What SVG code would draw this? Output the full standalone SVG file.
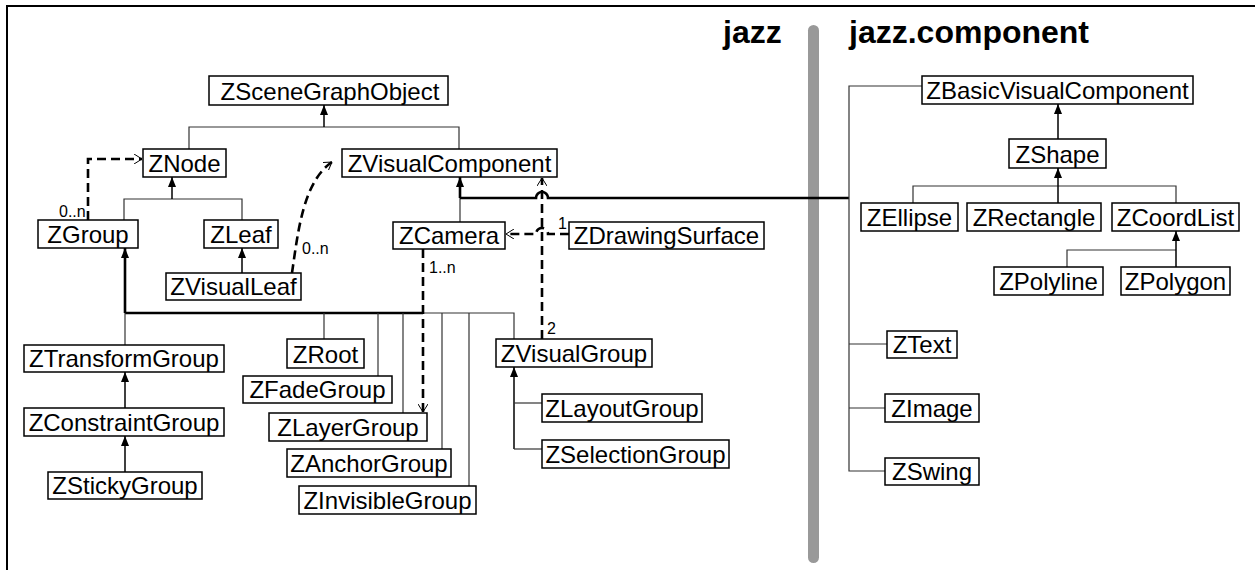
<svg xmlns="http://www.w3.org/2000/svg" width="1255" height="570" viewBox="0 0 1255 570">
<style>
  .box rect { fill: #fff; stroke: #000; stroke-width: 1.5; }
  .box text { font-family: "Liberation Sans", Arial, sans-serif; font-size: 24px; fill: #000; text-anchor: middle; }
  .thin { fill: none; stroke: #333; stroke-width: 1.2; }
  .inh { fill: none; stroke: #000; stroke-width: 1.5; }
  .thick { fill: none; stroke: #000; stroke-width: 2.6; }
  .dash { fill: none; stroke: #000; stroke-width: 2.6; stroke-dasharray: 9 5; }
  .lbl { font-family: "Liberation Sans", Arial, sans-serif; font-size: 16px; fill: #000; }
  .title { font-family: "Liberation Sans", Arial, sans-serif; font-size: 32px; font-weight: bold; fill: #000; }
</style>
<defs>
  <marker id="tri" viewBox="0 0 10 8" refX="10" refY="4" markerWidth="10" markerHeight="8" markerUnits="userSpaceOnUse" orient="auto">
    <path d="M0,0 L10,4 L0,8 z" fill="#000"/>
  </marker>
  <marker id="open" viewBox="0 0 8 10" refX="8" refY="5" markerWidth="8" markerHeight="10" markerUnits="userSpaceOnUse" orient="auto">
    <path d="M0,0 L8,5 L0,10" fill="none" stroke="#000" stroke-width="1"/>
  </marker>
</defs>
<rect x="0" y="0" width="1255" height="570" fill="#fff"/>
<path d="M7,570 V6 H1255" fill="none" stroke="#000" stroke-width="2"/>
<rect x="808" y="25" width="11" height="538" rx="5.5" fill="#999"/>
<text class="title" x="723" y="43">jazz</text>
<text class="title" x="849" y="43">jazz.component</text>

<g id="connectors">
  <!-- ZSceneGraphObject hierarchy -->
  <path class="thin" d="M189,149 V127 H459 V149"/>
  <path class="inh" d="M324,127 V105" marker-end="url(#tri)"/>
  <path class="thin" d="M124,220 V199 H242 V220"/>
  <path class="inh" d="M172,199 V177" marker-end="url(#tri)"/>
  <path class="inh" d="M242,273 V248" marker-end="url(#tri)"/>
  <!-- ZVisualComponent bus -->
  <path class="thin" d="M460,222 V198"/>
  <path class="thick" d="M460,198 V177" marker-end="url(#tri)"/>
  <path class="thick" d="M460,198 H536 A6,6 0 0 1 548,198 H849"/>
  <path class="thin" d="M922,86 H849 V471 H885"/>
  <path class="thin" d="M849,344 H887"/>
  <path class="thin" d="M849,408 H885"/>
  <!-- component hierarchy -->
  <path class="inh" d="M1058,139 V104" marker-end="url(#tri)"/>
  <path class="thin" d="M913,203 V186 H1176 V203"/>
  <path class="inh" d="M1058,203 V168" marker-end="url(#tri)"/>
  <path class="thin" d="M1067,267 V250 H1176"/>
  <path class="inh" d="M1176,267 V231" marker-end="url(#tri)"/>
  <!-- ZGroup bus -->
  <path class="thick" d="M125,313 V248" marker-end="url(#tri)"/>
  <path class="thick" d="M125,313 H423"/>
  <path class="thin" d="M423,313 H514 V339"/>
  <path class="thin" d="M125,313 V345"/>
  <path class="thin" d="M324,313 V339"/>
  <path class="thin" d="M378,313 V376"/>
  <path class="thin" d="M403,313 V413"/>
  <path class="thin" d="M442,313 V449"/>
  <path class="thin" d="M469,313 V486"/>
  <path class="inh" d="M125,408 V372" marker-end="url(#tri)"/>
  <path class="inh" d="M125,472 V436" marker-end="url(#tri)"/>
  <!-- ZVisualGroup hierarchy -->
  <path class="inh" d="M514,449 V367" marker-end="url(#tri)"/>
  <path class="thin" d="M542,403 H514"/>
  <path class="thin" d="M542,449 H514"/>
  <!-- associations -->
  <path class="dash" d="M88,220 V159 H142" marker-end="url(#open)"/>
  <path class="dash" d="M292,273 C298,232 303,182 332,162" marker-end="url(#open)"/>
  <path class="dash" d="M423,249 V412" marker-end="url(#open)"/>
  <path class="dash" d="M569,234 H548 A6,6 0 0 0 536,234 H506" marker-end="url(#open)"/>
  <path class="dash" d="M542,339 V178" marker-end="url(#open)"/>
  <text class="lbl" x="59" y="217">0..n</text>
  <text class="lbl" x="302" y="254">0..n</text>
  <text class="lbl" x="429" y="273">1..n</text>
  <text class="lbl" x="558" y="229">1</text>
  <text class="lbl" x="547" y="334">2</text>
</g>

<g id="ZSceneGraphObject" class="box"><rect x="209" y="76" width="239" height="29"/><text x="330" y="100">ZSceneGraphObject</text></g>
<g id="ZNode" class="box"><rect x="143" y="149" width="83" height="28"/><text x="184.5" y="172">ZNode</text></g>
<g id="ZVisualComponent" class="box"><rect x="342" y="149" width="215" height="28"/><text x="449.5" y="172">ZVisualComponent</text></g>
<g id="ZGroup" class="box"><rect x="38" y="220" width="100" height="28"/><text x="88" y="243">ZGroup</text></g>
<g id="ZLeaf" class="box"><rect x="204" y="220" width="74" height="28"/><text x="241" y="243">ZLeaf</text></g>
<g id="ZVisualLeaf" class="box"><rect x="166" y="273" width="135" height="27"/><text x="233.5" y="295">ZVisualLeaf</text></g>
<g id="ZCamera" class="box"><rect x="393" y="222" width="112" height="27"/><text x="449" y="244">ZCamera</text></g>
<g id="ZDrawingSurface" class="box"><rect x="569" y="222" width="195" height="27"/><text x="666.5" y="244">ZDrawingSurface</text></g>
<g id="ZTransformGroup" class="box"><rect x="24" y="345" width="200" height="27"/><text x="124" y="367">ZTransformGroup</text></g>
<g id="ZConstraintGroup" class="box"><rect x="24" y="408" width="200" height="28"/><text x="124" y="431">ZConstraintGroup</text></g>
<g id="ZStickyGroup" class="box"><rect x="48" y="472" width="154" height="27"/><text x="125" y="494">ZStickyGroup</text></g>
<g id="ZRoot" class="box"><rect x="287" y="339" width="77" height="29"/><text x="325.5" y="363">ZRoot</text></g>
<g id="ZFadeGroup" class="box"><rect x="243" y="376" width="149" height="27"/><text x="317.5" y="398">ZFadeGroup</text></g>
<g id="ZLayerGroup" class="box"><rect x="269" y="413" width="158" height="28"/><text x="348" y="436">ZLayerGroup</text></g>
<g id="ZAnchorGroup" class="box"><rect x="287" y="449" width="164" height="28"/><text x="369" y="472">ZAnchorGroup</text></g>
<g id="ZInvisibleGroup" class="box"><rect x="299" y="486" width="177" height="28"/><text x="387.5" y="509">ZInvisibleGroup</text></g>
<g id="ZVisualGroup" class="box"><rect x="496" y="339" width="156" height="28"/><text x="574" y="362">ZVisualGroup</text></g>
<g id="ZLayoutGroup" class="box"><rect x="542" y="394" width="160" height="28"/><text x="622" y="417">ZLayoutGroup</text></g>
<g id="ZSelectionGroup" class="box"><rect x="542" y="440" width="187" height="28"/><text x="635.5" y="463">ZSelectionGroup</text></g>
<g id="ZBasicVisualComponent" class="box"><rect x="922" y="76" width="271" height="28"/><text x="1057.5" y="99">ZBasicVisualComponent</text></g>
<g id="ZShape" class="box"><rect x="1009" y="139" width="97" height="29"/><text x="1057.5" y="163">ZShape</text></g>
<g id="ZEllipse" class="box"><rect x="861" y="203" width="97" height="28"/><text x="909.5" y="226">ZEllipse</text></g>
<g id="ZRectangle" class="box"><rect x="967" y="203" width="134" height="28"/><text x="1034" y="226">ZRectangle</text></g>
<g id="ZCoordList" class="box"><rect x="1112" y="203" width="127" height="28"/><text x="1175.5" y="226">ZCoordList</text></g>
<g id="ZPolyline" class="box"><rect x="994" y="267" width="109" height="28"/><text x="1048.5" y="290">ZPolyline</text></g>
<g id="ZPolygon" class="box"><rect x="1121" y="267" width="109" height="28"/><text x="1175.5" y="290">ZPolygon</text></g>
<g id="ZText" class="box"><rect x="887" y="331" width="70" height="27"/><text x="922" y="353">ZText</text></g>
<g id="ZImage" class="box"><rect x="885" y="394" width="94" height="28"/><text x="932" y="417">ZImage</text></g>
<g id="ZSwing" class="box"><rect x="885" y="458" width="94" height="27"/><text x="932" y="480">ZSwing</text></g>
</svg>
